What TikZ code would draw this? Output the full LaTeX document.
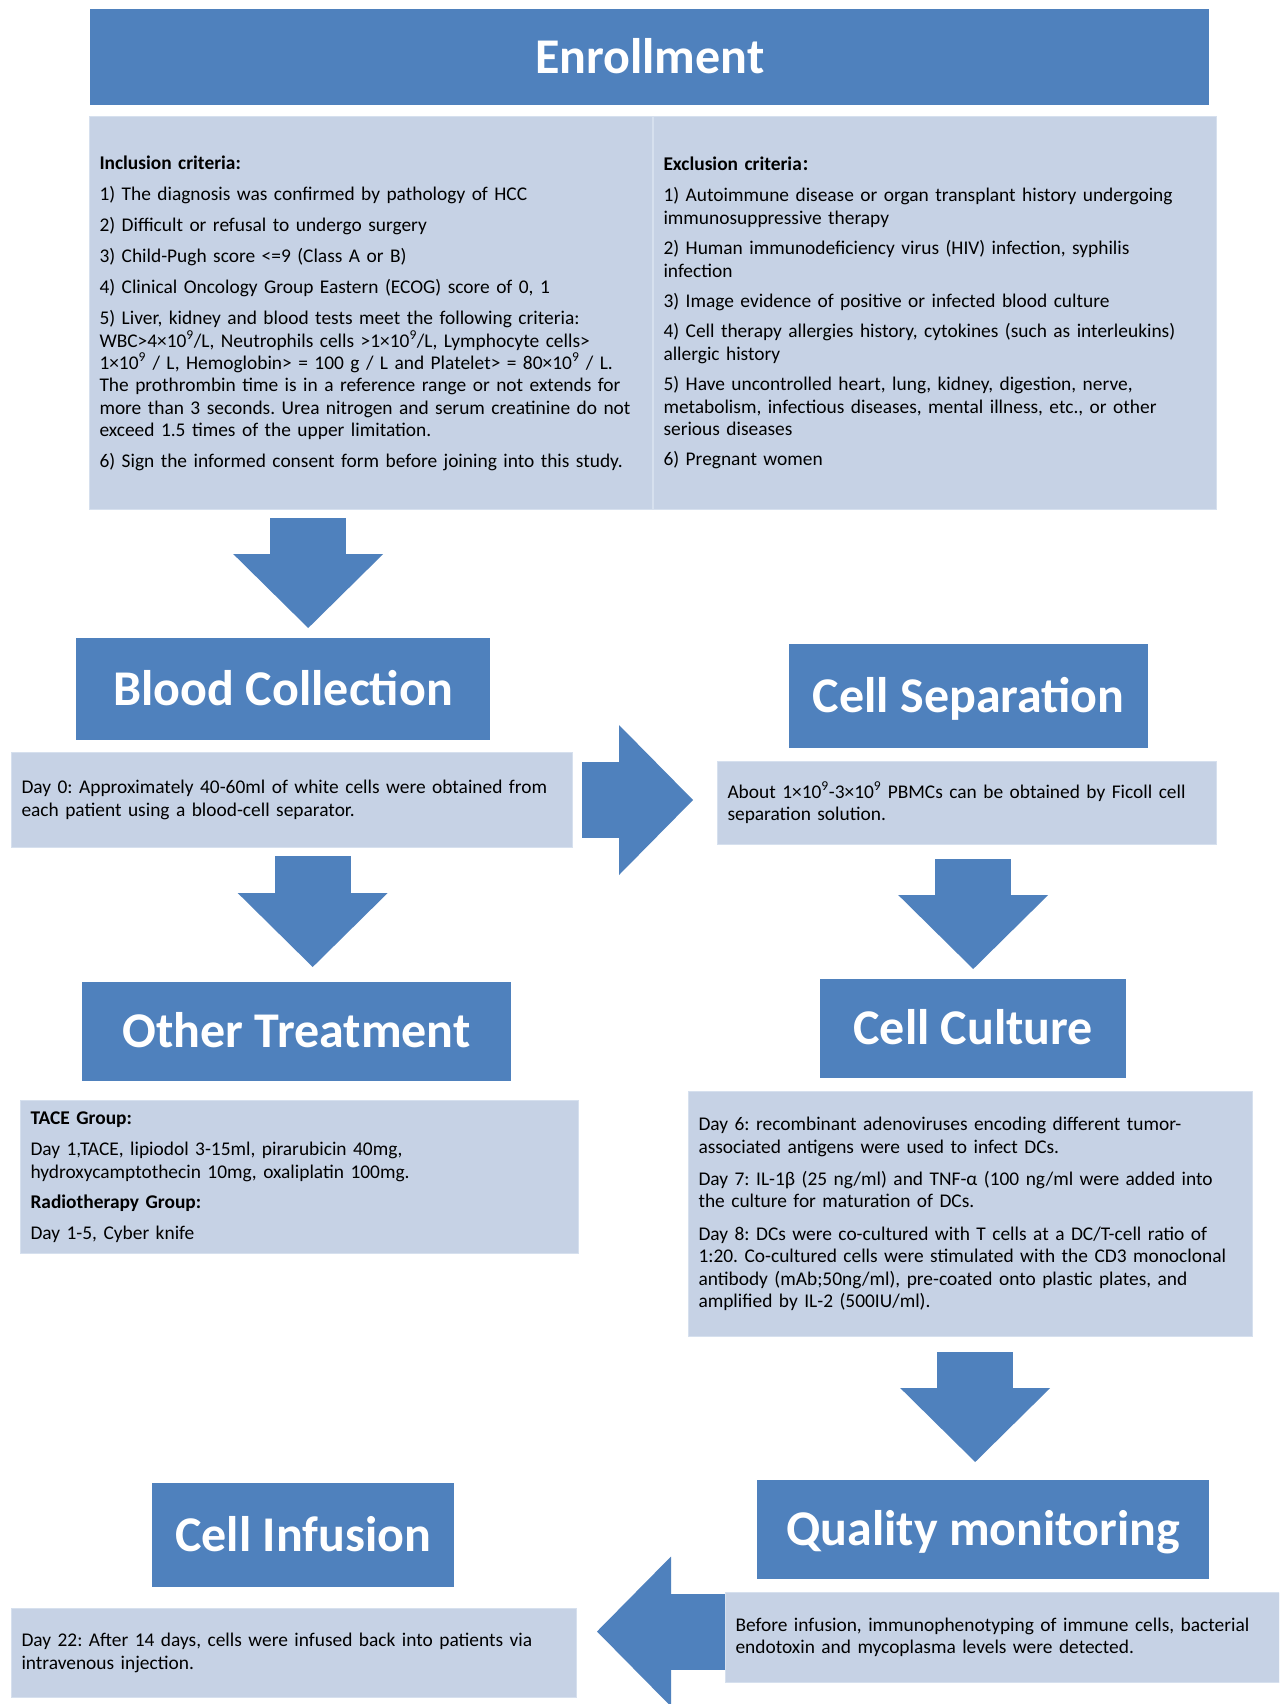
\documentclass[tikz,border=0pt]{standalone}
\usepackage{fontspec}
\setmainfont{Carlito}
\newfontfamily\cjk{Noto Sans CJK SC}
\usetikzlibrary{arrows.meta,positioning,calc}
\definecolor{hdblue}{RGB}{79,129,189}
\definecolor{paleblue}{RGB}{198,210,229}
\definecolor{edge}{RGB}{214,224,238}
\newcommand{\nine}{\textsuperscript{9}}
\newcommand{\hd}[1]{{\bfseries #1}}
\frenchspacing
\tikzset{
  hdr/.style={fill=hdblue,text=white,inner sep=0pt,anchor=north west,font=\fontsize{50}{60}\selectfont\bfseries,text height=32pt,text depth=0pt},
  txt/.style={fill=paleblue,draw=edge,line width=1pt,anchor=north west,align=left,inner xsep=10pt,font=\fontsize{19.4}{22.4}\selectfont},
  blk/.style={draw=hdblue,line width=76pt,-{Triangle[width=150pt,length=74pt,line width=0pt]}}
}
\begin{document}
\begin{tikzpicture}[x=1pt,y=-1pt]
  \clip (0,0) rectangle (1279,1704);
  \fill[white] (0,0) rectangle (1279,1704);

  \node[hdr,minimum width=1119pt,minimum height=96pt] (enroll) at (90,9) {Enrollment};
  \node[txt,text width=543pt,minimum height=393pt] (incl) at (89,116) {\hd{Inclusion criteria:}\\[9pt]
    1) The diagnosis was confirmed by pathology of HCC\\[8.6pt]
    2) Difficult or refusal to undergo surgery\\[8.6pt]
    3) Child-Pugh score <=9 (Class A or B)\\[8.6pt]
    4) Clinical Oncology Group Eastern (ECOG) score of 0, 1\\[8.6pt]
    5) Liver, kidney and blood tests meet the following criteria:\\
    WBC>4×10\nine/L, Neutrophils cells >1×10\nine/L, Lymphocyte cells>\\
    1×10\nine{} / L, Hemoglobin> = 100 g / L and Platelet> = 80×10\nine{} / L.\\
    The prothrombin time is in a reference range or not extends for\\
    more than 3 seconds. Urea nitrogen and serum creatinine do not\\
    exceed 1.5 times of the upper limitation.\\[8pt]
    6) Sign the informed consent form before joining into this study.};
  \node[txt,text width=543pt,minimum height=393pt,right=0pt of incl] (excl) {\hd{Exclusion criteria{\cjk\fontsize{15}{15}\selectfont ：}}\\[9pt]
    1) Autoimmune disease or organ transplant history undergoing\\
    immunosuppressive therapy\\[8pt]
    2) Human immunodeficiency virus (HIV) infection, syphilis\\
    infection\\[8pt]
    3) Image evidence of positive or infected blood culture\\[8pt]
    4) Cell therapy allergies history, cytokines (such as interleukins)\\
    allergic history\\[8pt]
    5) Have uncontrolled heart, lung, kidney, digestion, nerve,\\
    metabolism, infectious diseases, mental illness, etc., or other\\
    serious diseases\\[8pt]
    6) Pregnant women};

  \node[hdr,minimum width=414pt,minimum height=102pt] (blood) at (76,638) {Blood Collection\hspace{20pt}};
  \node[txt,text width=541pt,minimum height=95pt] (bloodtxt) at (11,752) {Day 0: Approximately 40-60ml of white cells were obtained from\\
    each patient using a blood-cell separator.};
  \node[hdr,minimum width=359pt,minimum height=104pt] (sep) at (789,644) {Cell Separation};
  \node[txt,text width=479pt,minimum height=83pt] (septxt) at (717,761) {About 1×10\nine-3×10\nine{} PBMCs can be obtained by Ficoll cell\\
    separation solution.};

  \node[hdr,minimum width=429pt,minimum height=99pt] (other) at (82,982) {Other Treatment\hspace{22pt}};
  \node[txt,text width=538pt,minimum height=153pt] (othertxt) at (20,1100) {\hd{TACE Group:}\\[9pt]
    Day 1,TACE, lipiodol 3-15ml, pirarubicin 40mg,\\
    hydroxycamptothecin 10mg, oxaliplatin 100mg.\\[8pt]
    \hd{Radiotherapy Group:}\\[8pt]
    Day 1-5, Cyber knife};
  \node[hdr,minimum width=306pt,minimum height=99pt] (culture) at (820,979) {Cell Culture};
  \node[txt,text width=544pt,minimum height=245pt] (culttxt) at (688,1091) {Day 6: recombinant adenoviruses encoding different tumor-\\
    associated antigens were used to infect DCs.\\[10pt]
    Day 7: IL-1β (25 ng/ml) and TNF-α (100 ng/ml were added into\\
    the culture for maturation of DCs.\\[10pt]
    Day 8: DCs were co-cultured with T cells at a DC/T-cell ratio of\\
    1:20. Co-cultured cells were stimulated with the CD3 monoclonal\\
    antibody (mAb;50ng/ml), pre-coated onto plastic plates, and\\
    amplified by IL-2 (500IU/ml).};

  \node[hdr,minimum width=452pt,minimum height=99pt] (quality) at (757,1480) {Quality monitoring};
  \node[txt,text width=534pt,minimum height=90pt] (qualtxt) at (725,1592) {Before infusion, immunophenotyping of immune cells, bacterial\\
    endotoxin and mycoplasma levels were detected.};
  \node[hdr,minimum width=302pt,minimum height=104pt] (infusion) at (152,1483) {Cell Infusion};
  \node[txt,text width=545pt,minimum height=89pt] (inftxt) at (11,1608) {Day 22: After 14 days, cells were infused back into patients via\\
    intravenous injection.};

  \coordinate (qin) at ([yshift=6pt]qualtxt.west);
  \draw[blk,shorten <=8pt,shorten >=10pt] ([xshift=25pt]blood.north |- incl.south) -- ([xshift=25pt]blood.north);
  \draw[blk,shorten <=8pt,shorten >=15pt] ([xshift=16pt]other.north |- bloodtxt.south) -- ([xshift=16pt]other.north);
  \draw[blk,shorten <=9pt,shorten >=24pt] (bloodtxt.east) -- (septxt.west |- bloodtxt.east);
  \draw[blk,shorten <=14pt,shorten >=10pt] (culture.north |- septxt.south) -- (culture.north);
  \draw[blk,shorten <=15pt,shorten >=18pt] ([xshift=-8pt]quality.north |- culttxt.south) -- ([xshift=-8pt]quality.north);
  \draw[blk,shorten >=20pt] (qin) -- (inftxt.east |- qin);
\end{tikzpicture}
\end{document}
